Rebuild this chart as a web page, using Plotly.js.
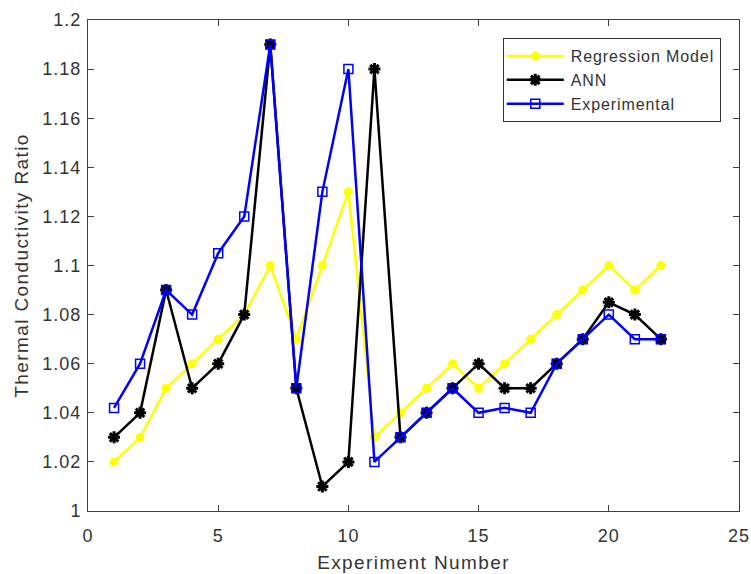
<!DOCTYPE html>
<html><head><meta charset="utf-8">
<script src="https://cdn.plot.ly/plotly-3.0.1.min.js"></script>
<style>
body{margin:0;background:#fff}#c{width:751px;height:574px}
.xtick text,.ytick text{letter-spacing:1px}
.xtitle,.ytitle{letter-spacing:1.4px}
.legendtext{letter-spacing:0.9px}
</style>
</head><body><div id="c"></div>
<script>
const experiments = [1,2,3,4,5,6,7,8,9,10,11,12,13,14,15,16,17,18,19,20,21,22];
const regression = [1.02,1.03,1.05,1.06,1.07,1.08,1.10,1.07,1.10,1.13,1.03,1.04,1.05,1.06,1.05,1.06,1.07,1.08,1.09,1.10,1.09,1.10];
const ann = [1.03,1.04,1.09,1.05,1.06,1.08,1.19,1.05,1.01,1.02,1.18,1.03,1.04,1.05,1.06,1.05,1.05,1.06,1.07,1.085,1.08,1.07];
const experimental = [1.042,1.06,1.09,1.08,1.105,1.12,1.19,1.05,1.13,1.18,1.02,1.03,1.04,1.05,1.04,1.042,1.04,1.06,1.07,1.08,1.07,1.07];
const xTicks = [0,5,10,15,20,25];
const yTicks = [1,1.02,1.04,1.06,1.08,1.1,1.12,1.14,1.16,1.18,1.2];
const yTickText = ['1','1.02','1.04','1.06','1.08','1.1','1.12','1.14','1.16','1.18','1.2'];

const traces = [
  {x: experiments, y: regression, name: 'Regression Model', mode: 'lines+markers',
   line: {color: '#FFFF00', width: 2.5}, marker: {symbol: 'circle', color: '#FFFF00', size: 9}},
  {x: experiments, y: ann, name: 'ANN', mode: 'lines+markers',
   line: {color: '#000000', width: 2.5}, marker: {symbol: 'asterisk-open', color: '#000000', size: 10, line: {color: '#000000', width: 3}}},
  {x: experiments, y: experimental, name: 'Experimental', mode: 'lines+markers',
   line: {color: '#0000FF', width: 2.5}, marker: {symbol: 'square-open', color: '#0000FF', size: 9, line: {color: '#0000FF', width: 1.5}}}
];
const axisCommon = {showgrid: false, zeroline: false, showline: true, mirror: 'ticks',
  linecolor: '#404040', linewidth: 1, ticks: 'inside', ticklen: 6, tickcolor: '#404040',
  tickfont: {family: 'Liberation Sans, Arial', size: 18, color: '#333333'}};
const layout = {
  width: 751, height: 574, paper_bgcolor: '#fff', plot_bgcolor: '#fff',
  margin: {l: 88, r: 12, t: 20, b: 63},
  font: {family: 'Liberation Sans, Arial', color: '#333333'},
  xaxis: Object.assign({}, axisCommon, {range: [0, 25], tickvals: xTicks, ticklabelstandoff: 8,
    title: {text: 'Experiment Number', font: {size: 19, color: '#333333'}, standoff: 11}}),
  yaxis: Object.assign({}, axisCommon, {range: [1, 1.2], tickvals: yTicks, ticktext: yTickText, ticklabelstandoff: 2,
    title: {text: 'Thermal Conductivity Ratio', font: {size: 19, color: '#333333'}, standoff: 8}}),
  showlegend: true,
  legend: {x: 0.972, y: 0.963, xanchor: 'right', yanchor: 'top', bgcolor: '#fff',
    bordercolor: '#333333', borderwidth: 1, font: {size: 16, color: '#333333'},
    tracegroupgap: 0, itemwidth: 57}
};
Plotly.newPlot('c', traces, layout, {displayModeBar: false, staticPlot: true}).then(function(gd){
  // lengthen the legend sample lines to match the reference style
  gd.querySelectorAll('.legend .legendlines path').forEach(function(p){ p.setAttribute('d','M3,0h57'); });
  gd.querySelectorAll('.legend .legendpoints path.scatterpts').forEach(function(p){ p.setAttribute('transform','translate(31.5,0)'); });
});
</script></body></html>
